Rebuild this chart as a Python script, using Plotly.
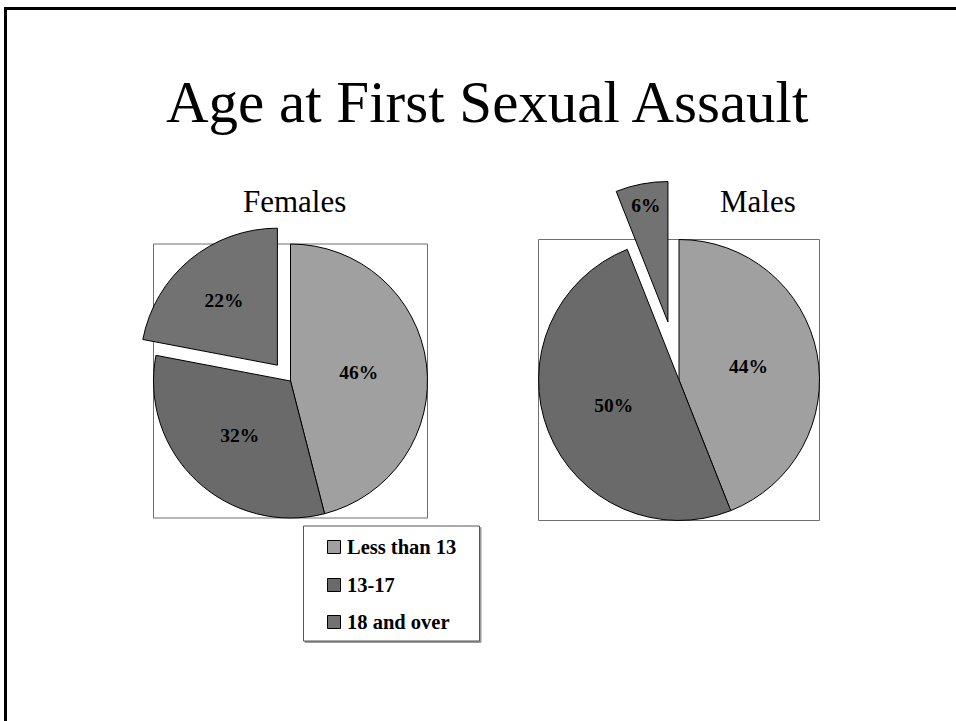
import plotly.graph_objects as go

# ---- data ----
categories = ["Less than 13", "13-17", "18 and over"]
females = [46, 32, 22]
males = [44, 50, 6]
colors = ["#a0a0a0", "#6a6a6a", "#727272"]
female_pull = [0, 0, 0.15]
male_pull = [0, 0, 0.42]
title_text = "Age at First Sexual Assault"
female_title = "Females"
male_title = "Males"

# ---- layout helpers (pixel -> paper) ----
W, H = 956, 721
SERIF = "Liberation Serif, Times New Roman, serif"


def px(x):
    return x / W


def py(y):
    return 1 - y / H


def domain(cx, cy, r, pull):
    half = r * (1 + max(pull))
    return dict(x=[px(cx - half), px(cx + half)], y=[py(cy + half), py(cy - half)])


F_CX, F_CY, F_R = 290.5, 381, 137
M_CX, M_CY, M_R = 679, 380, 140.5

pie_common = dict(
    labels=categories,
    sort=False,
    direction="clockwise",
    rotation=0,
    marker=dict(colors=colors, line=dict(color="black", width=1)),
    texttemplate="%{value}%",
    textposition="inside",
    insidetextorientation="horizontal",
    insidetextfont=dict(family=SERIF, size=19.5, color="black", weight="bold"),
    showlegend=False,
    hoverinfo="label+percent",
)

fig = go.Figure()
fig.add_trace(go.Pie(values=females, pull=female_pull, name="Females",
                     domain=domain(F_CX, F_CY, F_R, female_pull), **pie_common))
fig.add_trace(go.Pie(values=males, pull=male_pull, name="Males",
                     domain=domain(M_CX, M_CY, M_R, male_pull), **pie_common))

shapes = []
# slide border (top and left)
shapes.append(dict(type="line", xref="paper", yref="paper", x0=px(4), x1=1.0,
                   y0=py(8.5), y1=py(8.5), line=dict(color="black", width=3)))
shapes.append(dict(type="line", xref="paper", yref="paper", x0=px(5.5), x1=px(5.5),
                   y0=py(7), y1=0, line=dict(color="black", width=3)))
# boxes around the pies
for cx, cy, r in [(F_CX, F_CY, F_R), (M_CX, M_CY, M_R)]:
    shapes.append(dict(type="rect", xref="paper", yref="paper", layer="below",
                       x0=px(cx - r), x1=px(cx + r), y0=py(cy + r), y1=py(cy - r),
                       line=dict(color="#6f6f6f", width=1), fillcolor="rgba(0,0,0,0)"))
# legend box
LX0, LX1, LY0, LY1 = 303.5, 479.5, 526, 641
shapes.append(dict(type="rect", xref="paper", yref="paper",
                   x0=px(LX0 + 1.5), x1=px(LX1 + 1.5), y0=py(LY1 + 1.5), y1=py(LY0 + 1.5),
                   line=dict(color="#9a9a9a", width=1), fillcolor="#9a9a9a", layer="below"))
shapes.append(dict(type="rect", xref="paper", yref="paper",
                   x0=px(LX0), x1=px(LX1), y0=py(LY1), y1=py(LY0),
                   line=dict(color="#555555", width=1), fillcolor="white", layer="below"))

annotations = [
    dict(text=title_text, x=px(487), y=py(102), xref="paper", yref="paper",
         showarrow=False, xanchor="center", yanchor="middle",
         font=dict(family=SERIF, size=59, color="black")),
    dict(text=female_title, x=px(294.5), y=py(201), xref="paper", yref="paper",
         showarrow=False, xanchor="center", yanchor="middle",
         font=dict(family=SERIF, size=31, color="black")),
    dict(text=male_title, x=px(758), y=py(201), xref="paper", yref="paper",
         showarrow=False, xanchor="center", yanchor="middle",
         font=dict(family=SERIF, size=31, color="black")),
]

row_y = [547, 585, 622]
for cat, col, yy in zip(categories, colors, row_y):
    shapes.append(dict(type="rect", xref="paper", yref="paper",
                       x0=px(327.5), x1=px(340.5), y0=py(yy + 6.5), y1=py(yy - 6.5),
                       line=dict(color="black", width=1), fillcolor=col))
    annotations.append(dict(text=cat, x=px(345), y=py(yy), xref="paper", yref="paper",
                            showarrow=False, xanchor="left", yanchor="middle",
                            font=dict(family=SERIF, size=20.5, color="black", weight="bold")))

fig.update_layout(
    width=W, height=H, autosize=False,
    margin=dict(l=0, r=0, t=0, b=0),
    paper_bgcolor="white", plot_bgcolor="white",
    shapes=shapes, annotations=annotations,
    showlegend=False,
)

fig.write_html("out.html", config={"displayModeBar": False},
               post_script="document.body.style.margin='0';document.body.style.overflow='hidden';")
